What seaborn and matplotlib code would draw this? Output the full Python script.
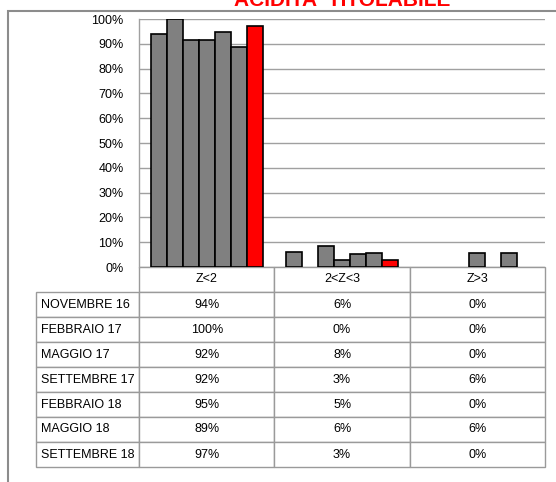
import matplotlib
matplotlib.use("Agg")
import matplotlib.pyplot as plt
import pandas as pd
import seaborn as sns
from matplotlib.patches import Rectangle

categories = ["Z<2", "2<Z<3", "Z>3"]
periods = [
    "NOVEMBRE 16",
    "FEBBRAIO 17",
    "MAGGIO 17",
    "SETTEMBRE 17",
    "FEBBRAIO 18",
    "MAGGIO 18",
    "SETTEMBRE 18",
]
z_below_2 = [93.8, 100.0, 91.7, 91.7, 94.7, 88.9, 97.0]
z_between = [6.2, 0.0, 8.3, 2.8, 5.3, 5.6, 3.0]
z_above_3 = [0.0, 0.0, 0.0, 5.6, 0.0, 5.6, 0.0]
yticks = list(range(0, 101, 10))

sns.set_style("white")
plt.rcParams["font.family"] = ["Liberation Sans", "DejaVu Sans"]
plt.rcParams["text.color"] = "black"
plt.rcParams["ytick.color"] = "black"

df = pd.DataFrame({
    "periodo": periods * 3,
    "classe": [c for c in categories for _ in periods],
    "valore": z_below_2 + z_between + z_above_3,
})

W, H = 556, 482
fig = plt.figure(figsize=(W / 100, H / 100), dpi=100)

# axes box in pixels: x 139-545, y 19-267
ax = fig.add_axes([139 / W, 1 - 267 / H, 406 / W, 248 / H])

sns.barplot(
    data=df,
    x="classe",
    y="valore",
    hue="periodo",
    order=categories,
    hue_order=periods,
    palette=["#808080"] * 6 + ["#ff0000"],
    saturation=1,
    width=0.83,
    edgecolor="black",
    linewidth=1.2,
    legend=False,
    ax=ax,
)

for p in ax.patches:
    if p.get_height() == 0:
        p.set_linewidth(0)

ax.set_xlim(-0.5, 2.5)
ax.set_ylim(0, 100)
ax.set_yticks(yticks)
ax.set_yticklabels([f"{t}%" for t in yticks], fontsize=9)
ax.set_xticks([])
ax.set_xlabel("")
ax.set_ylabel("")
ax.tick_params(axis="y", length=0, pad=11, labelcolor="black")
ax.yaxis.grid(True, color="#a0a0a0", linewidth=1)
ax.set_axisbelow(True)
for side in ["top", "right", "bottom"]:
    ax.spines[side].set_visible(False)
ax.spines["left"].set_color("#a0a0a0")
ax.spines["left"].set_linewidth(1)

# data table under the chart: first column holds the period names
cell_text = [
    [name, f"{a:.0f}%", f"{b:.0f}%", f"{c:.0f}%"]
    for name, a, b, c in zip(periods, z_below_2, z_between, z_above_3)
]
x0 = (36 - 139) / 406
tab = ax.table(
    cellText=cell_text,
    colLabels=[""] + categories,
    colWidths=[103 / 509] + [135 / 509] * 3,
    cellLoc="center",
    colLoc="center",
    bbox=[x0, -200 / 248, 509 / 406, 200 / 248],
)
tab.auto_set_font_size(False)
tab.set_fontsize(9)
for (r, c), cell in tab.get_celld().items():
    cell.set_edgecolor("#9a9a9a")
    cell.set_linewidth(1.0)
    cell.get_text().set_color("black")
    if c == 0:
        cell.get_text().set_horizontalalignment("left")
        cell.PAD = 0.05
        if r == 0:
            cell.visible_edges = ""

fig.text(342 / W, 1 - 6 / H, "ACIDITA' TITOLABILE", color="#ff0000",
         fontsize=15, fontweight="bold", ha="center", va="baseline")

fig.add_artist(Rectangle((8 / W, -0.1), 2, 1 - 10.5 / H + 0.1,
                         transform=fig.transFigure, fill=False,
                         edgecolor="#8c8c8c", linewidth=1.5))

fig.savefig("out.png", dpi=100)
